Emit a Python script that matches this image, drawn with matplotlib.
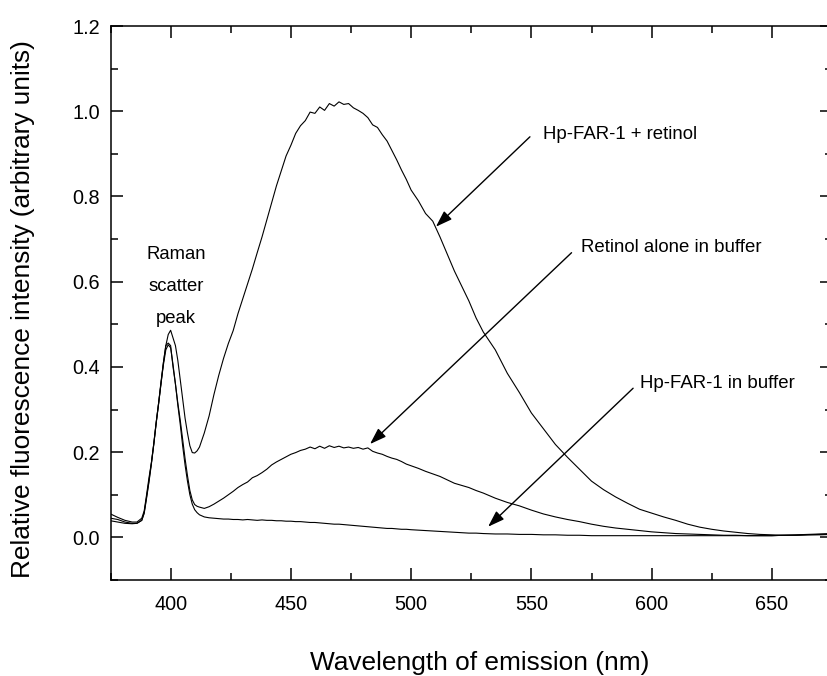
import matplotlib
matplotlib.use("Agg")
import matplotlib.pyplot as plt
from matplotlib.ticker import MultipleLocator, FormatStrFormatter

# ---------------- data ----------------
wavelength = [
    375, 378, 381, 384, 386, 388,
    389, 390, 391, 392, 393, 394, 395, 396, 397, 398,
    399, 400, 401, 402, 403, 404, 405, 406, 407, 408,
    409, 410, 411, 412,
    414, 416, 418, 420, 422, 424, 426, 428, 430, 432,
    434, 436, 438, 440, 442, 444, 446, 448, 450, 452,
    454, 456, 458, 460, 462, 464, 466, 468, 470, 472,
    474, 476, 478, 480, 482, 484, 486, 488, 490, 492,
    494, 496, 498, 500,
    503, 506, 509, 512, 515, 518, 521, 524, 527, 530,
    535, 540, 545, 550, 555, 560, 565, 570, 575, 580,
    585, 590, 595, 600, 605, 610, 615, 620, 625, 630,
    635, 640, 645, 650, 655, 660, 665, 670, 675,
]

far1_retinol = [
    0.055, 0.047, 0.040, 0.036, 0.036, 0.045,
    0.062, 0.100, 0.140, 0.175, 0.220, 0.270, 0.315, 0.360, 0.410, 0.450,
    0.476, 0.486, 0.468, 0.450, 0.415, 0.370, 0.325, 0.280, 0.245, 0.215,
    0.199, 0.198, 0.203, 0.212,
    0.245, 0.285, 0.335, 0.380, 0.420, 0.455, 0.485, 0.525, 0.560, 0.595,
    0.630, 0.668, 0.705, 0.745, 0.785, 0.825, 0.860, 0.895, 0.920, 0.948,
    0.966, 0.978, 0.998, 0.995, 1.010, 1.002, 1.018, 1.012, 1.022, 1.016,
    1.018, 1.008, 1.002, 0.995, 0.985, 0.968, 0.962, 0.945, 0.930, 0.908,
    0.886, 0.862, 0.840, 0.815,
    0.790, 0.760, 0.742, 0.705, 0.665, 0.625, 0.590, 0.555, 0.515, 0.482,
    0.440, 0.385, 0.340, 0.292, 0.255, 0.218, 0.188, 0.160, 0.132, 0.112,
    0.095, 0.080, 0.066, 0.057, 0.048, 0.040, 0.031, 0.024, 0.019, 0.015,
    0.012, 0.009, 0.007, 0.006, 0.005, 0.006, 0.007, 0.008, 0.009,
]

retinol_alone = [
    0.045, 0.042, 0.036, 0.033, 0.033, 0.040,
    0.058, 0.095, 0.133, 0.175, 0.220, 0.270, 0.315, 0.365, 0.410, 0.450,
    0.456, 0.450, 0.400, 0.360, 0.315, 0.275, 0.230, 0.185, 0.145, 0.110,
    0.088, 0.077, 0.073, 0.071,
    0.068, 0.072, 0.078, 0.085, 0.092, 0.100, 0.108, 0.117, 0.124, 0.130,
    0.140, 0.145, 0.152, 0.160, 0.170, 0.177, 0.183, 0.189, 0.195, 0.199,
    0.204, 0.207, 0.212, 0.208, 0.214, 0.209, 0.215, 0.211, 0.214, 0.210,
    0.212, 0.209, 0.211, 0.207, 0.210, 0.202, 0.198, 0.195, 0.190, 0.186,
    0.183, 0.178, 0.172, 0.168,
    0.162, 0.155, 0.149, 0.143, 0.135, 0.127, 0.122, 0.117, 0.110, 0.104,
    0.092, 0.082, 0.074, 0.064, 0.055, 0.048, 0.042, 0.037, 0.031, 0.026,
    0.022, 0.019, 0.016, 0.013, 0.011, 0.009, 0.008, 0.007, 0.006, 0.005,
    0.005, 0.004, 0.004, 0.004, 0.005, 0.005, 0.006, 0.007, 0.008,
]

far1_buffer = [
    0.039, 0.036, 0.033, 0.032, 0.033, 0.040,
    0.056, 0.092, 0.130, 0.172, 0.218, 0.268, 0.313, 0.362, 0.405, 0.440,
    0.452, 0.445, 0.405, 0.360, 0.310, 0.265, 0.215, 0.170, 0.132, 0.100,
    0.078, 0.065, 0.058, 0.053,
    0.048, 0.046, 0.045, 0.044, 0.043, 0.043, 0.042, 0.042, 0.041, 0.042,
    0.041, 0.040, 0.041, 0.040, 0.040, 0.039, 0.039, 0.038, 0.038, 0.037,
    0.037, 0.036, 0.035, 0.035, 0.034, 0.033, 0.032, 0.031, 0.031, 0.030,
    0.029, 0.028, 0.027, 0.026, 0.025, 0.024, 0.023, 0.022, 0.021, 0.021,
    0.020, 0.019, 0.019, 0.018,
    0.017, 0.016, 0.015, 0.014, 0.013, 0.012, 0.011, 0.010, 0.010, 0.009,
    0.008, 0.008, 0.007, 0.007, 0.006, 0.006, 0.005, 0.005, 0.004, 0.004,
    0.004, 0.004, 0.004, 0.004, 0.004, 0.004, 0.004, 0.004, 0.004, 0.004,
    0.004, 0.004, 0.004, 0.004, 0.005, 0.005, 0.006, 0.006, 0.007,
]

x_ticks = [400, 450, 500, 550, 600, 650]
y_ticks = [0.0, 0.2, 0.4, 0.6, 0.8, 1.0, 1.2]

annotations = [
    # text, text anchor (x, y), arrow start, arrow tip
    ("Hp-FAR-1 + retinol", (554.7, 0.934), (549.4, 0.940), (510.3, 0.729)),
    ("Retinol alone in buffer", (570.8, 0.669), (566.7, 0.668), (482.9, 0.219)),
    ("Hp-FAR-1 in buffer", (595.1, 0.350), (592.3, 0.350), (532.0, 0.025)),
]
raman_lines = ["Raman", "scatter", "peak"]
raman_baselines = [0.653, 0.579, 0.504]

# ---------------- figure ----------------
plt.rcParams["font.family"] = ["Liberation Sans", "DejaVu Sans"]
fig = plt.figure(figsize=(8.27, 6.76), dpi=100)
W, H = 827, 676
ax = fig.add_axes([110.5 / W, 96 / H, (832 - 110.5) / W, (580 - 26) / H])

for series in (far1_retinol, retinol_alone, far1_buffer):
    ax.plot(wavelength, series, color="black", lw=0.8)

ax.set_xlim(375, 675)
ax.set_ylim(-0.1, 1.2)
ax.xaxis.set_major_locator(MultipleLocator(50))
ax.xaxis.set_minor_locator(MultipleLocator(25))
ax.yaxis.set_major_locator(MultipleLocator(0.2))
ax.yaxis.set_minor_locator(MultipleLocator(0.1))
ax.set_xticks(x_ticks)
ax.set_yticks(y_ticks)
ax.yaxis.set_major_formatter(FormatStrFormatter("%.1f"))
ax.tick_params(which="both", direction="in", top=True, right=True,
               width=1.1, labelsize=14.3)
ax.tick_params(which="major", length=8.5)
ax.tick_params(which="minor", length=5)
ax.tick_params(axis="x", pad=11)
ax.tick_params(axis="y", pad=7.5)
for s in ax.spines.values():
    s.set_linewidth(1.1)

for txt, (tx, ty), start, tip in annotations:
    ax.text(tx, ty, txt, fontsize=13.4, ha="left", va="baseline")
    ax.annotate("", xy=tip, xytext=start,
                arrowprops=dict(arrowstyle="-|>,head_length=0.5,head_width=0.17",
                                mutation_scale=20, color="black", lw=1.0,
                                shrinkA=0, shrinkB=0))

for line, yb in zip(raman_lines, raman_baselines):
    ax.text(402.2, yb, line, fontsize=13.3, ha="center", va="baseline")

fig.text(480 / W, 1 - 663 / H, "Wavelength of emission (nm)", fontsize=18.9,
         ha="center", va="center")
fig.text(23 / W, 1 - 309 / H, "Relative fluorescence intensity (arbitrary units)",
         fontsize=18.9, ha="center", va="center", rotation=90)

fig.savefig("out.png", dpi=100)
